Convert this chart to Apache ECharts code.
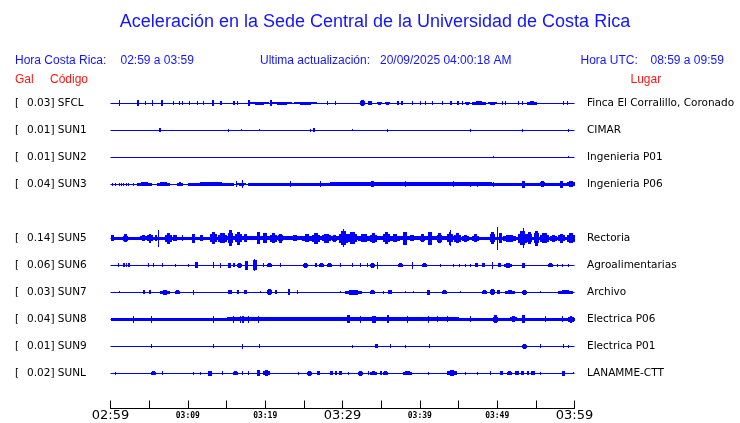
<!DOCTYPE html>
<html>
<head>
<meta charset="utf-8">
<script src="https://cdn.jsdelivr.net/npm/echarts@6/dist/echarts.min.js"></script>
<style>html,body{margin:0;padding:0;background:#fff;}#c{width:740px;height:423px;}</style>
</head>
<body>
<div id="c"></div>
<script>
// ---- data ----
const codes  = ['SFCL','SUN1','SUN2','SUN3','','SUN5','SUN6','SUN7','SUN8','SUN9','SUNL'];
const gal    = ['0.03','0.01','0.01','0.04','','0.14','0.06','0.03','0.04','0.01','0.02'];
const places = ['Finca El Corralillo, Coronado','CIMAR','Ingenieria P01','Ingenieria P06','','Rectoria','Agroalimentarias','Archivo','Electrica P06','Electrica P01','LANAMME-CTT'];
const tickLabels = ['02:59','','03:09','','03:19','','03:29','','03:39','','03:49','','03:59'];
// trace envelopes: [start minute, end minute, half amplitude]
const sfcl = [[1.1,1.1,3],[3.4,3.6,3],[4.5,4.5,2],[5.4,5.4,3],[6.5,6.7,3],[8.1,8.1,2],[8.9,8.9,2],[9.2,9.2,2],[10.2,10.2,2],[11.2,11.2,2],[12.0,12.0,2],[13.1,13.3,3],[14.2,14.4,2],[15.8,16.0,2],[16.3,16.4,2],[17.8,18.0,3],[18.1,20.5,1.5],[20.6,20.8,3],[20.9,23.5,1.5],[23.7,26.7,1.5],[28.0,28.0,2],[29.0,29.0,2],[32.3,32.9,3],[33.3,33.8,2],[34.5,35.2,1.5],[35.5,36.1,1.5],[37.0,37.2,2],[37.6,37.8,2],[39.0,39.0,2],[40.0,40.0,2],[40.7,40.7,2],[41.6,41.6,2],[42.9,42.9,2],[43.9,44.2,2],[44.8,45.0,2],[45.4,45.5,2],[45.8,46.5,1.5],[46.7,48.5,2],[48.8,50.0,1.5],[50.6,50.6,2],[51.0,51.0,2],[52.7,52.7,2],[53.2,53.2,2],[53.9,55.2,2],[58.5,58.5,2],[59.0,59.0,2]];
const sun1 = [[6.3,6.5,2],[15.2,15.2,1.5],[16.9,16.9,1],[19.2,19.2,1],[25.8,25.8,1.5],[26.2,26.5,2],[31.2,31.2,1],[35.8,35.8,1.5],[46.5,46.5,1.5],[53.2,53.2,1.5],[59.2,59.2,1.5]];
const sun2 = [[49.5,49.5,1],[59.2,59.2,1]];
const sun3 = [[0.2,0.2,1.5],[0.6,0.6,1.5],[1.1,1.1,1.5],[1.4,1.4,1.5],[1.6,1.6,1.5],[2.0,2.0,1.5],[2.3,2.3,1.5],[2.9,2.9,1.5],[3.4,5.3,2],[6.0,7.7,2],[8.6,9.4,2],[10.0,16.0,2],[16.4,17.6,1.5],[17.8,60,2],[16.2,16.2,3],[17.0,17.0,4],[23.2,23.2,3],[27.1,27.1,3],[33.6,34.2,3],[38.1,38.1,3],[44.3,44.3,3],[46.5,46.5,2.5],[47.4,47.4,2.5],[49.5,49.5,2.5],[53.2,53.6,3.5],[55.5,56.1,3],[58.1,58.5,3.5],[59.0,60,3]];
const sun5 = [[0,60,2],[0,0.4,3],[1.6,2.3,4],[3.8,4.7,3],[4.7,5.5,4.5],[5.8,6.0,3],[6.2,6.2,8.5],[7.0,7.9,5.5],[8.1,8.6,3],[9.2,9.2,3],[10.5,10.9,4.5],[11.6,12.0,3],[12.9,13.8,6],[13.9,15.1,5],[15.2,15.9,8],[16.1,17.0,6.5],[17.2,17.6,4],[18.9,19.3,6],[19.7,20.2,5],[20.6,21.5,5],[21.7,22.3,4.5],[23.6,24.1,3],[24.8,26.1,4],[26.1,27.1,5.5],[27.3,28.4,4.5],[28.6,29.3,3.5],[29.5,30.6,7],[30.0,30.1,9],[30.7,31.9,6],[32.0,33.6,4],[33.6,34.5,5],[35.2,36.1,6],[36.1,37.4,4],[37.8,38.3,6.5],[38.5,39.5,3],[40.0,40.7,4],[41.1,41.6,6.5],[42.2,42.9,5],[43.5,44.3,6.5],[43.9,43.9,8],[44.4,45.3,5],[45.5,46.4,3.5],[46.8,47.7,4],[49.1,49.7,6],[50.0,50.0,11.5],[50.2,50.6,5],[50.8,52.5,3.5],[52.7,53.9,7],[53.3,53.3,10],[53.9,54.6,6],[54.7,55.3,7.5],[55.5,56.6,5],[56.8,57.7,3.5],[57.9,58.8,4.5],[59.0,60,5]];
const sun6 = [[1.0,1.0,2],[1.6,1.8,2],[2.0,2.1,2],[2.3,2.5,2],[4.9,4.9,2],[5.5,5.5,2],[6.6,6.6,2],[8.3,8.3,1.5],[10.0,10.0,1.5],[10.9,11.3,3],[13.3,13.3,3],[14.2,14.2,2.5],[15.2,15.6,2.5],[15.9,16.2,2],[16.4,17.0,2.5],[17.4,17.8,4.5],[18.4,18.9,5],[18.6,18.6,6],[19.7,19.7,2],[20.2,20.8,2],[21.9,21.9,2],[24.9,25.5,2.5],[26.4,26.7,2],[27.0,27.6,2],[28.0,28.7,2],[29.7,29.7,2],[31.2,31.2,2],[32.3,32.3,2],[33.2,33.2,2],[33.6,34.2,2.5],[34.5,34.5,3.5],[37.2,37.8,2],[39.0,39.0,3.5],[40.3,40.9,2],[42.6,42.6,1.5],[44.3,44.3,1.5],[45.0,45.0,1.5],[45.8,45.8,1.5],[46.5,46.5,1.5],[47.1,47.5,2],[48.0,48.4,2],[49.3,49.3,3.5],[50.1,50.5,2],[50.9,51.9,2.5],[53.2,53.6,2.5],[56.6,57.2,2],[57.7,57.7,1.5],[58.4,58.4,1.5],[59.2,59.2,1.5]];
const sun7 = [[1.1,1.1,1],[4.2,4.5,2],[5.0,5.3,2],[6.4,7.7,2.5],[8.3,9.0,2],[10.7,10.7,2.5],[15.2,15.7,2],[16.4,16.6,2],[17.3,17.7,2],[19.3,19.3,1],[20.2,20.9,3],[21.3,21.6,2],[23.0,23.2,3],[24.1,24.1,2],[29.7,29.7,1],[30.3,32.5,2.5],[33.6,34.2,2],[35.2,35.2,1.5],[35.9,36.4,2],[38.1,38.1,1],[39.1,39.1,1],[40.9,41.3,2.5],[42.9,43.5,2],[45.2,45.2,1],[48.0,48.7,2],[49.1,49.7,3],[50.0,50.4,2],[51.0,52.3,2],[53.2,53.9,2.5],[55.5,55.5,1],[57.9,59.8,2]];
const sun8 = [[0,60,2],[2.9,2.9,3.5],[5.2,5.2,3.5],[13.3,13.3,3.5],[15.9,15.9,3.5],[16.8,16.8,3.5],[17.0,17.3,3.5],[17.8,17.8,3.5],[19.1,19.1,3.5],[30.6,31.0,4],[32.3,32.3,3.5],[33.8,34.3,3.5],[35.8,36.1,4],[38.3,38.3,3.5],[41.1,41.1,3.5],[42.2,42.2,3],[43.5,43.5,3],[46.5,46.5,3],[49.5,50.1,4],[51.6,52.5,3],[53.2,53.6,4],[56.2,56.2,3],[58.4,58.4,3],[59.2,60,3.5]];
const sun9 = [[5.2,5.2,2],[13.3,13.3,2],[17.0,17.0,2.5],[19.2,19.2,2],[31.2,31.2,1.5],[34.2,34.6,2],[36.1,36.1,2],[38.1,38.1,1.5],[41.2,41.2,2],[53.2,53.9,2.5],[55.5,55.5,2],[58.5,58.5,2],[59.2,59.2,1.5]];
const sunl = [[0.6,0.6,1.5],[5.2,5.8,2],[6.7,6.7,2],[10.7,10.7,1.5],[11.6,11.6,1.5],[12.6,13.1,2.5],[14.4,14.4,2],[15.8,16.4,2],[17.0,17.0,2],[17.8,17.8,2],[18.9,19.3,3],[19.7,20.6,3],[24.2,24.2,1.5],[25.4,26.1,2.5],[26.7,27.1,2],[28.4,28.8,2],[29.0,29.2,2],[29.5,29.9,2],[30.7,30.7,1.5],[32.0,32.7,2.5],[33.3,33.3,2],[33.6,34.5,2],[34.8,35.0,2],[35.3,35.9,2],[37.8,39.0,2],[41.1,41.1,1.5],[43.5,44.8,3],[45.8,45.8,1.5],[47.4,47.4,1.5],[49.1,49.1,2],[50.4,50.8,2],[51.3,51.9,2],[52.3,52.8,2],[53.1,53.5,2],[53.8,54.1,2],[54.4,54.9,2],[55.5,55.5,1.5],[58.4,58.8,2.5],[59.8,59.8,1]];
const traces = [sfcl, sun1, sun2, sun3, null, sun5, sun6, sun7, sun8, sun9, sunl];
const startMin = 0, endMin = 60;

// ---- build ----
const BLUE = '#0000ff';
const rowIdx = codes.map((c, i) => i);
const items = [];
traces.forEach((tr, r) => {
  if (!tr) return;
  items.push([r, startMin, endMin, 0]);
  tr.forEach(e => items.push([r, e[0], e[1], e[2]]));
});

function renderItem(params, api) {
  const r = api.value(0), t0 = api.value(1), t1 = api.value(2), amp = api.value(3);
  const p0 = api.coord([t0, r]);
  const p1 = api.coord([t1, r]);
  const band = api.size([0, 1])[1];
  const P = Math.round(p0[1]);
  if (amp === 0) {
    return { type: 'line', shape: { x1: p0[0], y1: P + 0.5, x2: p1[0], y2: P + 0.5 }, style: { stroke: BLUE, lineWidth: 1 } };
  }
  const h = amp * band / 27;
  const x0 = Math.round(p0[0]);
  const w = Math.max(1, Math.round(p1[0] - p0[0]));
  const full = Math.max(1, Math.round(2 * h));
  const half = Math.floor(full / 2);
  if (w < 5) {
    return { type: 'rect', shape: { x: x0, y: P - half, width: w, height: full }, style: { fill: BLUE } };
  }
  // wider burst: stepped envelope (outer quarters lower)
  const q = Math.max(1, Math.round(w / 4));
  const fullO = Math.max(2, Math.round(full * 0.65));
  const halfO = Math.floor(fullO / 2);
  return {
    type: 'group',
    children: [
      { type: 'rect', shape: { x: x0, y: P - halfO, width: w, height: fullO }, style: { fill: BLUE } },
      { type: 'rect', shape: { x: x0 + q, y: P - half, width: w - 2 * q, height: full }, style: { fill: BLUE } }
    ]
  };
}

const chart = echarts.init(document.getElementById('c'), null, { renderer: 'canvas' });
chart.setOption({
  animation: false,
  backgroundColor: '#fff',
  grid: { left: 110.5, right: 165.5, top: 89.5, bottom: 36.5, containLabel: false, outerBoundsMode: 'none' },
  xAxis: {
    type: 'value', min: startMin, max: endMin, interval: 5, position: 'bottom', offset: 22,
    axisLine: { show: true, lineStyle: { color: '#000', width: 1 } },
    axisTick: { show: true, inside: true, length: 8, lineStyle: { color: '#000', width: 1 } },
    splitLine: { show: false },
    axisLabel: {
      margin: 0,
      formatter: function (v) {
        const lab = tickLabels[Math.round(v / 5)] || '';
        if (!lab) return '';
        return (v % 30 === 0) ? '{b|' + lab + '}' : '{s|' + lab + '}';
      },
      rich: {
        b: { fontFamily: 'DejaVu Sans', fontSize: 13, color: '#000', lineHeight: 14 },
        s: { fontFamily: 'DejaVu Sans Mono', fontSize: 8, fontWeight: 'bold', color: '#000', lineHeight: 14 }
      }
    }
  },
  yAxis: [
    {
      type: 'category', data: rowIdx, inverse: true, position: 'left',
      axisLine: { show: false }, axisTick: { show: false }, splitLine: { show: false },
      axisLabel: {
        align: 'left', margin: 95.5, color: '#000', fontFamily: 'DejaVu Sans', fontSize: 10.5,
        formatter: function (v) { const i = +v; return codes[i] ? '{a|[}' + gal[i] + '] ' + codes[i] : ''; },
        rich: { a: { width: 12, fontFamily: 'DejaVu Sans', fontSize: 10.5, color: '#000' } }
      }
    },
    {
      type: 'category', data: rowIdx, inverse: true, position: 'right',
      axisLine: { show: false }, axisTick: { show: false }, splitLine: { show: false },
      axisLabel: {
        align: 'left', margin: 12.5, color: '#000', fontFamily: 'DejaVu Sans', fontSize: 10.5,
        formatter: function (v) { return places[+v] || ''; }
      }
    }
  ],
  series: [{
    type: 'custom', renderItem: renderItem, data: items, clip: false,
    encode: { x: [1, 2], y: 0 }, xAxisIndex: 0, yAxisIndex: 0, silent: true
  }],
  graphic: [
    { type: 'text', x: 375, y: 22, style: { text: 'Aceleración en la Sede Central de la Universidad de Costa Rica', font: '18px Liberation Sans', fill: '#1414ff', textAlign: 'center', textVerticalAlign: 'middle' } },
    { type: 'text', x: 15, y: 61, style: { text: 'Hora Costa Rica:', font: '12px Liberation Sans', fill: '#1414ff', textVerticalAlign: 'middle' } },
    { type: 'text', x: 120.5, y: 61, style: { text: '02:59 a 03:59', font: '12px Liberation Sans', fill: '#1414ff', textVerticalAlign: 'middle' } },
    { type: 'text', x: 260, y: 61, style: { text: 'Ultima actualización:', font: '12px Liberation Sans', fill: '#1414ff', textVerticalAlign: 'middle' } },
    { type: 'text', x: 380, y: 61, style: { text: '20/09/2025 04:00:18 AM', font: '12px Liberation Sans', fill: '#1414ff', textVerticalAlign: 'middle' } },
    { type: 'text', x: 580.5, y: 61, style: { text: 'Hora UTC:', font: '12px Liberation Sans', fill: '#1414ff', textVerticalAlign: 'middle' } },
    { type: 'text', x: 650.5, y: 61, style: { text: '08:59 a 09:59', font: '12px Liberation Sans', fill: '#1414ff', textVerticalAlign: 'middle' } },
    { type: 'text', x: 15, y: 80, style: { text: 'Gal', font: '12px Liberation Sans', fill: '#ff1414', textVerticalAlign: 'middle' } },
    { type: 'text', x: 50, y: 80, style: { text: 'Código', font: '12px Liberation Sans', fill: '#ff1414', textVerticalAlign: 'middle' } },
    { type: 'text', x: 630.5, y: 80, style: { text: 'Lugar', font: '12px Liberation Sans', fill: '#ff1414', textVerticalAlign: 'middle' } }
  ]
});
</script>
</body>
</html>
